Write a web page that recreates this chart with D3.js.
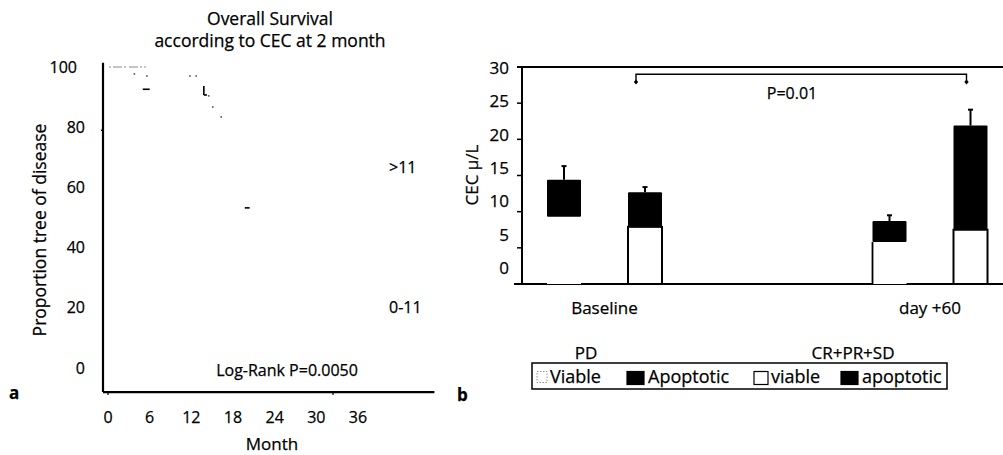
<!DOCTYPE html>
<html>
<head>
<meta charset="utf-8">
<script src="https://cdn.jsdelivr.net/npm/d3@7"></script>
<style>
  html, body { margin: 0; padding: 0; background: #fff; }
  svg { display: block; }
  text { font-family: "Open Sans", "Noto Sans", sans-serif; fill: #000; stroke: #000; stroke-width: 0.25px; }
</style>
</head>
<body>
<svg id="fig" width="1003" height="455"></svg>
<script>
// ---- Panel a: overall survival by CEC at 2 months ----
const monthTicks = [0, 6, 12, 18, 24, 30, 36];
const survivalTicks = [0, 20, 40, 60, 80, 100];
// visible step pieces of the Kaplan-Meier curves: [month start, month end, survival start, survival end]
const survivalSteps = [
  [13.8, 13.8, 93.7, 90.7],
  [13.8, 14.25, 90.7, 90.7],
  [5.0, 6.0, 92.6, 92.6],
  [19.7, 20.4, 53.2, 53.2]
];
// censored observations [month, survival]
const censored = [
  [3.8, 97.7], [5.6, 97.0], [11.8, 97.0], [12.7, 97.0],
  [14.5, 90.4], [15.1, 86.7], [16.3, 83.4]
];
// initial plateau at 100 %
const plateau = [0.15, 5.45];
const groupLabels = [">11", "0-11"];
const groupLabelValues = [66.5, 20];

// ---- Panel b: CEC counts ----
const timepoints = ["Baseline", "day +60"];
const responseGroups = ["PD", "CR+PR+SD"];
const viable = { "Baseline": [9.3, 7.9], "day +60": [5.8, 7.5] };
const total = { "Baseline": [14.4, 12.7], "day +60": [8.7, 21.9] };
const errorTop = { "Baseline": [16.3, 13.4], "day +60": [9.5, 24.1] };
const cecTicks = [0, 5, 10, 15, 20, 25, 30];
const legendItems = ["Viable", "Apoptotic", "viable", "apoptotic"];
const pValue = "P=0.01";

const svg = d3.select("#fig");

// ================= Panel a =================
const xA = d3.scaleLinear().domain([0, 36]).range([108, 358]);
const yA = d3.scaleLinear().domain([0, 100]).range([368, 67]);
const gA = svg.append("g");

// axis frame
gA.append("line").attr("x1", xA(-0.72)).attr("x2", xA(-0.72))
  .attr("y1", yA(101.4)).attr("y2", yA(-8))
  .attr("stroke", "#000").attr("stroke-width", 2.2);
gA.append("line").attr("x1", xA(-0.72)).attr("x2", xA(47))
  .attr("y1", yA(-8)).attr("y2", yA(-8))
  .attr("stroke", "#000").attr("stroke-width", 2.2);
// small ticks
gA.selectAll(".xt").data([0, 32.4]).join("line")
  .attr("x1", d => xA(d)).attr("x2", d => xA(d))
  .attr("y1", yA(-8)).attr("y2", yA(-8) + 3)
  .attr("stroke", "#000").attr("stroke-width", 1.2);
gA.selectAll(".yt").data([79]).join("line")
  .attr("x1", xA(-0.72) - 2).attr("x2", xA(-0.72))
  .attr("y1", d => yA(d)).attr("y2", d => yA(d))
  .attr("stroke", "#000").attr("stroke-width", 1.5);

// tick labels
gA.selectAll(".ylab").data(survivalTicks).join("text")
  .attr("x", 85).attr("y", d => yA(d)).attr("dy", "0.35em")
  .attr("dx", d => d === 100 ? -8 : 0)
  .attr("text-anchor", "end").attr("font-size", 16)
  .text(d => d);
gA.selectAll(".xlab").data(monthTicks).join("text")
  .attr("x", d => xA(d)).attr("y", 417).attr("dy", "0.35em")
  .attr("text-anchor", "middle").attr("font-size", 16)
  .text(d => d);

// titles
gA.append("text").attr("x", 270).attr("y", 25).attr("text-anchor", "middle")
  .attr("font-size", 17.5).text("Overall Survival");
gA.append("text").attr("x", 270).attr("y", 47).attr("text-anchor", "middle")
  .attr("font-size", 17.5).text("according to CEC at 2 month");
gA.append("text").attr("x", 272).attr("y", 444).attr("dy", "0.35em")
  .attr("text-anchor", "middle").attr("font-size", 17).text("Month");
gA.append("text").attr("transform", "translate(40,230) rotate(-90)")
  .attr("dy", "0.35em").attr("text-anchor", "middle").attr("font-size", 17.5)
  .text("Proportion tree of disease");
gA.append("text").attr("x", 287).attr("y", 370).attr("dy", "0.35em")
  .attr("text-anchor", "middle").attr("font-size", 16).text("Log-Rank P=0.0050");
gA.selectAll(".grp").data(groupLabels).join("text")
  .attr("x", 389).attr("y", (d, i) => yA(groupLabelValues[i])).attr("dy", "0.35em")
  .attr("font-size", 16).text(d => d);
svg.append("text").attr("x", 9).attr("y", 399).attr("font-size", 17)
  .attr("font-weight", "bold").text("a");

// survival curve fragments
gA.append("line")
  .attr("x1", xA(plateau[0])).attr("x2", xA(plateau[1]))
  .attr("y1", yA(100)).attr("y2", yA(100))
  .attr("stroke", "#888").attr("stroke-width", 1)
  .attr("stroke-dasharray", "2,2,9,2,2,3,9,2");
gA.selectAll(".step").data(survivalSteps).join("line")
  .attr("x1", d => xA(d[0])).attr("x2", d => xA(d[1]))
  .attr("y1", d => yA(d[2])).attr("y2", d => yA(d[3]))
  .attr("stroke", "#000").attr("stroke-width", 1.6);
gA.selectAll(".cens").data(censored).join("rect")
  .attr("x", d => xA(d[0]) - 0.8).attr("y", d => yA(d[1]) - 0.8)
  .attr("width", 1.6).attr("height", 1.6).attr("fill", "#555");

// ================= Panel b =================
const yB = d3.scaleLinear().domain([0, 30]).range([284, 67]);
const yBLab = d3.scaleLinear().domain([0, 30]).range([268, 68]);
const xB = d3.scalePoint().domain(timepoints).range([604.5, 930]);
const xSub = d3.scaleBand().domain(responseGroups).range([-81, 81]);
const barW = 34;
const gB = svg.append("g");
const barX = (t, gi) => xB(t) + xSub(responseGroups[gi]) + xSub.bandwidth() / 2 - barW / 2;

// frame
gB.append("line").attr("x1", 522).attr("x2", 522).attr("y1", yB(30)).attr("y2", yB(0))
  .attr("stroke", "#000").attr("stroke-width", 2);
gB.append("line").attr("x1", 517).attr("x2", 1003).attr("y1", yB(30)).attr("y2", yB(30))
  .attr("stroke", "#000").attr("stroke-width", 2);
gB.append("line").attr("x1", 514).attr("x2", 1003).attr("y1", yB(0)).attr("y2", yB(0))
  .attr("stroke", "#000").attr("stroke-width", 2.2);
gB.selectAll(".ytick").data(cecTicks.slice(1, -1)).join("line")
  .attr("x1", 517).attr("x2", 522).attr("y1", d => yB(d)).attr("y2", d => yB(d))
  .attr("stroke", "#000").attr("stroke-width", 1.5);
gB.selectAll(".ylab").data(cecTicks).join("text")
  .attr("x", 509).attr("y", d => yBLab(d)).attr("dy", "0.35em")
  .attr("text-anchor", "end").attr("font-size", 17).text(d => d);
gB.append("text").attr("transform", "translate(472,175) rotate(-90)")
  .attr("dy", "0.35em").attr("text-anchor", "middle").attr("font-size", 17)
  .text("CEC µ/L");
gB.selectAll(".xlab").data(timepoints).join("text")
  .attr("x", d => xB(d)).attr("y", 308).attr("dy", "0.35em")
  .attr("text-anchor", "middle").attr("font-size", 17).text(d => d);
svg.append("text").attr("x", 457).attr("y", 401).attr("font-size", 17)
  .attr("font-weight", "bold").text("b");

// bars
const barData = [];
timepoints.forEach(t => responseGroups.forEach((g, gi) => barData.push({
  t, gi, viable: viable[t][gi], total: total[t][gi], err: errorTop[t][gi]
})));
const bars = gB.selectAll(".bar").data(barData).join("g");
bars.append("rect")
  .attr("x", d => barX(d.t, d.gi)).attr("width", barW)
  .attr("y", d => yB(d.viable)).attr("height", d => yB(0) - yB(d.viable))
  .attr("fill", "#fff")
  .attr("stroke", d => d.gi === 1 ? "#000" : "none").attr("stroke-width", 2);
// PD viable bars keep only a faint left edge
bars.filter(d => d.gi === 0 && d.t === timepoints[1]).append("line")
  .attr("x1", d => barX(d.t, d.gi)).attr("x2", d => barX(d.t, d.gi))
  .attr("y1", d => yB(d.viable)).attr("y2", yB(0))
  .attr("stroke", "#000").attr("stroke-width", 1.8);
bars.append("rect")
  .attr("x", d => barX(d.t, d.gi)).attr("width", barW)
  .attr("y", d => yB(d.total)).attr("height", d => yB(d.viable) - yB(d.total))
  .attr("fill", "#000").attr("rx", 1);
// error bars
bars.append("line")
  .attr("x1", d => barX(d.t, d.gi) + barW / 2).attr("x2", d => barX(d.t, d.gi) + barW / 2)
  .attr("y1", d => yB(d.total)).attr("y2", d => yB(d.err))
  .attr("stroke", "#000").attr("stroke-width", 2);
bars.append("line")
  .attr("x1", d => barX(d.t, d.gi) + barW / 2 - 2.5).attr("x2", d => barX(d.t, d.gi) + barW / 2 + 2.5)
  .attr("y1", d => yB(d.err)).attr("y2", d => yB(d.err))
  .attr("stroke", "#000").attr("stroke-width", 2);

// significance bracket between CR+PR+SD bars
const bx1 = barX(timepoints[0], 1) + barW / 2 - 9;
const bx2 = barX(timepoints[1], 1) + barW / 2 - 4;
const by = yB(29), byEnd = yB(28);
gB.append("path")
  .attr("d", `M${bx1},${byEnd} V${by} H${bx2} V${byEnd}`)
  .attr("fill", "none").attr("stroke", "#000").attr("stroke-width", 1.4);
gB.selectAll(".tip").data([bx1, bx2]).join("path")
  .attr("d", d => `M${d},${byEnd - 2} L${d + 2.2},${byEnd + 0.5} L${d},${byEnd + 3} L${d - 2.2},${byEnd + 0.5} Z`)
  .attr("fill", "#000");
gB.append("text").attr("x", 792).attr("y", 93).attr("dy", "0.35em")
  .attr("text-anchor", "middle").attr("font-size", 16).text(pValue);

// legend
gB.selectAll(".grpLab").data(responseGroups).join("text")
  .attr("x", (d, i) => [586, 853][i]).attr("y", 353).attr("dy", "0.35em")
  .attr("text-anchor", "middle").attr("font-size", 17).text(d => d);
gB.append("rect").attr("x", 532).attr("y", 363).attr("width", 415).attr("height", 26)
  .attr("fill", "#fff").attr("stroke", "#000").attr("stroke-width", 1.5);
const legX = [537, 627, 754, 841];
const leg = gB.selectAll(".leg").data(legendItems).join("g")
  .attr("transform", (d, i) => `translate(${legX[i]},0)`);
leg.append("rect")
  .attr("x", 0).attr("y", 371.5).attr("width", (d, i) => i === 0 ? 10 : i === 2 ? 14 : 17)
  .attr("height", (d, i) => i === 0 ? 11 : 13)
  .attr("fill", (d, i) => i % 2 ? "#000" : "#fff")
  .attr("stroke", (d, i) => i === 0 ? "#777" : "#000")
  .attr("stroke-width", (d, i) => i === 0 ? 0.8 : 1.2)
  .attr("stroke-dasharray", (d, i) => i === 0 ? "1.5,1.5" : null);
leg.append("text")
  .attr("x", (d, i) => i === 0 ? 13 : i === 2 ? 17 : 21).attr("y", 377).attr("dy", "0.35em")
  .attr("font-size", 18).text(d => d);
</script>
</body>
</html>
